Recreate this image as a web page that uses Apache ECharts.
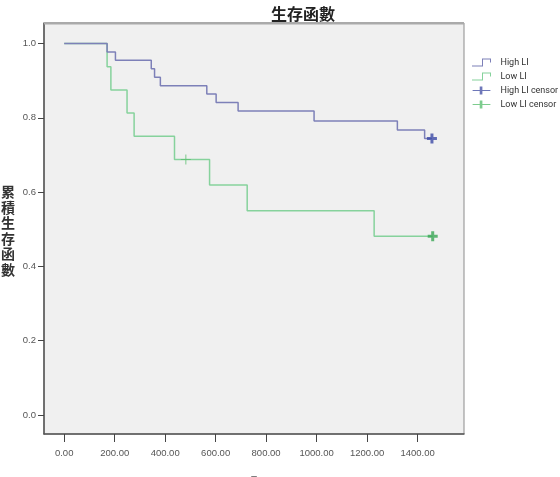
<!DOCTYPE html>
<html>
<head>
<meta charset="utf-8">
<script src="https://cdn.jsdelivr.net/npm/echarts@6/dist/echarts.min.js"></script>
<style>html,body{margin:0;padding:0;background:#fff;}#c{width:560px;height:477px;}</style>
</head>
<body>
<div id="c"></div>
<script>
const xTicks = [0, 200, 400, 600, 800, 1000, 1200, 1400];
const yTicks = [0, 0.2, 0.4, 0.6, 0.8, 1.0];
const highLI = [[0,1],[170,0.977],[203,0.955],[345,0.932],[358,0.909],[381,0.886],[565,0.864],[602,0.841],[689,0.818],[990,0.791],[1320,0.767],[1428,0.744],[1457,0.744]];
const lowLI = [[0,1],[170,0.9375],[185,0.875],[249,0.8125],[277,0.75],[437,0.6875],[576,0.619],[725,0.55],[1228,0.481],[1460,0.481]];
const highCensor = [[1457,0.744]];
const lowCensorThin = [[482,0.6875]];
const lowCensorBold = [[1460,0.481]];
const seriesNames = ['High LI', 'Low LI', 'High LI censor', 'Low LI censor'];
const titleText = '生存函數';
const yName = '累積生存函數';

const stepIcon = 'path://M0,7H10V0H19V4H18V1H11V8H0Z';
const plusIcon = 'path://M0,4H8V0H11V4H20V5H11V9H8V5H0Z';
const plusBold = 'path://M3.5,0H6.5V3.5H10V6.5H6.5V10H3.5V6.5H0V3.5H3.5Z';
const plusThin = 'path://M4.5,0H5.5V4.5H10V5.5H5.5V10H4.5V5.5H0V4.5H4.5Z';

const blue = '#7d80b8', green = '#86d29c';
const chart = echarts.init(document.getElementById('c'), null, {renderer:'canvas'});
chart.setOption({
  animation: false,
  backgroundColor: '#ffffff',
  title: {
    text: titleText, left: 266, top: 1,
    textStyle: {fontFamily: '"Noto Sans CJK TC"', fontSize: 16, fontWeight: 'bold', color: '#222'}
  },
  legend: {
    orient: 'vertical', left: 467, top: 53, itemWidth: 20, itemHeight: 8, itemGap: 5,
    textStyle: {fontFamily: 'Roboto', fontSize: 9, color: '#333', padding: [0,0,0,4]},
    data: [
      {name: seriesNames[0], icon: stepIcon, itemStyle: {color: blue}},
      {name: seriesNames[1], icon: stepIcon, itemStyle: {color: green}},
      {name: seriesNames[2], icon: plusIcon, itemStyle: {color: '#4a55a8'}},
      {name: seriesNames[3], icon: plusIcon, itemStyle: {color: '#5cbf72'}}
    ]
  },
  grid: {
    left: 44, right: 96, top: 23, bottom: 43, show: true, outerBoundsMode: 'none', containLabel: false,
    backgroundColor: '#f0f0f0', borderColor: '#8c8c8c', borderWidth: 1
  },
  xAxis: {
    type: 'value', min: -80, max: 1584,
    name: '–', nameLocation: 'middle', nameGap: 37,
    nameTextStyle: {fontSize: 10, color: '#555'},
    splitLine: {show: false},
    axisLine: {show: true, onZero: false, lineStyle: {color: '#555', width: 1.5}},
    axisTick: {show: true, length: 8, customValues: xTicks, lineStyle: {color: '#444'}},
    axisLabel: {customValues: xTicks, margin: 14, fontFamily: '"Liberation Sans"', fontSize: 9.5, color: '#555',
      formatter: v => v.toFixed(2)}
  },
  yAxis: {
    type: 'value', min: -0.051, max: 1.055,
    splitLine: {show: false},
    axisLine: {show: true, onZero: false, lineStyle: {color: '#555', width: 1.5}},
    axisTick: {show: true, length: 6, customValues: yTicks, lineStyle: {color: '#444'}},
    axisLabel: {customValues: yTicks, margin: 8, fontFamily: '"Liberation Sans"', fontSize: 9.5, color: '#555',
      formatter: v => v.toFixed(1)}
  },
  graphic: [
    {type: 'rect', shape: {x: 44, y: 22, width: 420, height: 2.5}, style: {fill: '#aaaaaa'}, z: 10},
    {type: 'text', left: 1, top: 184, style: {text: yName.split('').join('\n'), fontFamily: '"Noto Sans CJK TC"',
      fontSize: 14, fontWeight: 'bold', lineHeight: 15.5, fill: '#333'}}
  ],
  series: [
    {name: seriesNames[0], type: 'line', step: 'end', data: highLI, symbol: 'none',
      lineStyle: {color: blue, width: 1.5}, itemStyle: {color: blue}, z: 3},
    {name: seriesNames[1], type: 'line', step: 'end', data: lowLI, symbol: 'none',
      lineStyle: {color: green, width: 1.5}, itemStyle: {color: green}, z: 2},
    {name: seriesNames[2], type: 'scatter', data: highCensor, symbol: plusBold, symbolSize: 10,
      itemStyle: {color: '#3c4aa6'}, z: 5},
    {name: seriesNames[3], type: 'scatter', data: lowCensorBold, symbol: plusBold, symbolSize: 10,
      itemStyle: {color: '#3aa655'}, z: 5},
    {name: seriesNames[3], type: 'scatter', data: lowCensorThin, symbol: plusThin, symbolSize: 10,
      itemStyle: {color: '#5cbf72'}, z: 5}
  ]
});
</script>
</body>
</html>
